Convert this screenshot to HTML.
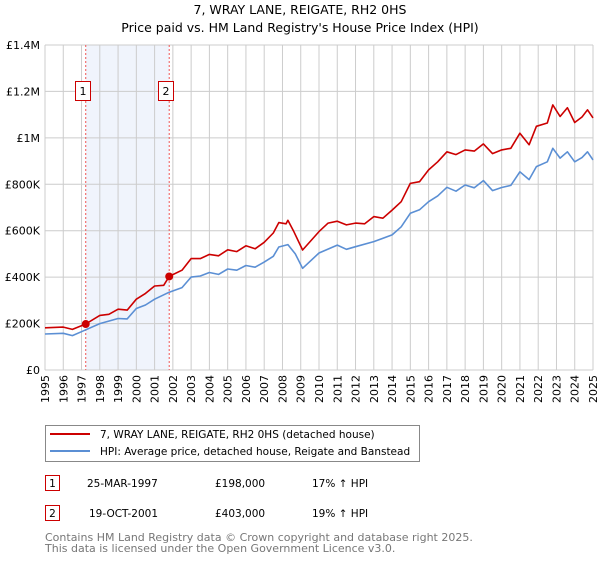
<!DOCTYPE html>
<html><head><meta charset="utf-8"><style>
body{margin:0;background:#fff;font-family:"DejaVu Sans","Liberation Sans",sans-serif;}
svg text{font-family:"DejaVu Sans","Liberation Sans",sans-serif;}
</style></head><body>
<svg id="chart" width="600" height="560" xmlns="http://www.w3.org/2000/svg">
<text x="300" y="14" text-anchor="middle" font-size="12.5" fill="#000">7, WRAY LANE, REIGATE, RH2 0HS</text>
<text x="300" y="32" text-anchor="middle" font-size="12.5" fill="#000">Price paid vs. HM Land Registry's House Price Index (HPI)</text>
<g id="plot"></g>
<g>
<rect x="45.5" y="425.5" width="374" height="36" fill="#fff" stroke="#888"/>
<line x1="50" y1="434" x2="90" y2="434" stroke="#cc0000" stroke-width="2"/>
<text x="100" y="438" font-size="10.5">7, WRAY LANE, REIGATE, RH2 0HS (detached house)</text>
<line x1="50" y1="451" x2="90" y2="451" stroke="#5b8fd4" stroke-width="2"/>
<text x="100" y="455" font-size="10.5">HPI: Average price, detached house, Reigate and Banstead</text>
</g>
<g>
<rect x="45.5" y="475.5" width="14" height="15" fill="#fff" stroke="#cc0000"/>
<text x="52.5" y="487" text-anchor="middle" font-size="10.5">1</text>
<text x="87" y="487" font-size="10.5">25-MAR-1997</text>
<text x="215" y="487" font-size="10.5">£198,000</text>
<text x="312" y="487" font-size="10.5">17% ↑ HPI</text>
<rect x="45.5" y="505.5" width="14" height="15" fill="#fff" stroke="#cc0000"/>
<text x="52.5" y="517" text-anchor="middle" font-size="10.5">2</text>
<text x="89" y="517" font-size="10.5">19-OCT-2001</text>
<text x="215" y="517" font-size="10.5">£403,000</text>
<text x="312" y="517" font-size="10.5">19% ↑ HPI</text>
</g>
<text x="45" y="541" font-size="11" fill="#777">Contains HM Land Registry data © Crown copyright and database right 2025.</text>
<text x="45" y="552" font-size="11" fill="#777">This data is licensed under the Open Government Licence v3.0.</text>
</svg>
<script>
const yearTicks=[1995,1996,1997,1998,1999,2000,2001,2002,2003,2004,2005,2006,2007,2008,2009,2010,2011,2012,2013,2014,2015,2016,2017,2018,2019,2020,2021,2022,2023,2024,2025];
const valueTicks=[0,200000,400000,600000,800000,1000000,1200000,1400000];
const valueTickLabels=["£0","£200K","£400K","£600K","£800K","£1M","£1.2M","£1.4M"];
const propYears=[1995,1996,1996.5,1997.23,1998,1998.5,1999,1999.5,2000,2000.5,2001,2001.5,2001.8,2002.5,2003,2003.5,2004,2004.5,2005,2005.5,2006,2006.5,2007,2007.5,2007.8,2008.2,2008.3,2008.6,2009.1,2010,2010.5,2011,2011.5,2012,2012.5,2013,2013.5,2014,2014.5,2015,2015.5,2016,2016.5,2017,2017.5,2018,2018.5,2019,2019.5,2020,2020.5,2021,2021.5,2021.9,2022.5,2022.8,2023.2,2023.6,2024,2024.4,2024.7,2025];
const propValues=[182000,185000,175000,198000,235000,240000,262000,258000,305000,330000,362000,365000,403000,430000,480000,480000,498000,492000,518000,510000,535000,522000,550000,590000,635000,630000,645000,600000,517000,596000,633000,641000,625000,633000,630000,661000,654000,689000,725000,804000,811000,862000,897000,940000,928000,948000,943000,974000,932000,948000,955000,1020000,970000,1050000,1064000,1142000,1092000,1130000,1066000,1090000,1121000,1086000];
const hpiYears=[1995,1996,1996.5,1997,1998,1999,1999.5,2000,2000.5,2001,2001.8,2002.5,2003,2003.5,2004,2004.5,2005,2005.5,2006,2006.5,2007,2007.5,2007.8,2008.3,2008.7,2009.1,2010,2011,2011.5,2012,2013,2014,2014.5,2015,2015.5,2016,2016.5,2017,2017.5,2018,2018.5,2019,2019.5,2020,2020.5,2021,2021.5,2021.9,2022.5,2022.8,2023.2,2023.6,2024,2024.4,2024.7,2025];
const hpiValues=[155000,158000,148000,165000,200000,222000,220000,265000,280000,305000,335000,355000,400000,405000,420000,412000,435000,430000,450000,443000,465000,490000,530000,540000,500000,438000,504000,538000,520000,531000,553000,582000,617000,675000,690000,725000,750000,787000,770000,797000,785000,816000,773000,786000,795000,854000,820000,876000,897000,955000,913000,940000,897000,915000,940000,905000];
const saleYears=[1997.23,2001.8];
const salePrices=[198000,403000];
const saleLabels=["1","2"];

const NS="http://www.w3.org/2000/svg";
const X0=45,X1=593,Y0=370,Y1=45;
const xScale=y=>X0+(y-1995)/(2025-1995)*(X1-X0);
const yScale=v=>Y0-v/1400000*(Y0-Y1);
const g=document.getElementById('plot');
function mk(t,a){const e=document.createElementNS(NS,t);for(const k in a)e.setAttribute(k,a[k]);g.appendChild(e);return e;}
let sh=mk('rect',{x:xScale(saleYears[0]),y:Y1,width:xScale(saleYears[1])-xScale(saleYears[0]),height:Y0-Y1,fill:'#f0f4fc'});


yearTicks.forEach(y=>{
  const l=mk('line',{x1:xScale(y),x2:xScale(y),y1:Y1,y2:Y0,stroke:'#ccc','stroke-width':1});
  
  
  const t=mk('text',{transform:`translate(${xScale(y)+4},${Y0+5}) rotate(-90)`,'text-anchor':'end','font-size':'11'});
  t.textContent=y;
  
  
});
valueTicks.forEach((v,i)=>{
  const l=mk('line',{x1:X0,x2:X1,y1:yScale(v),y2:yScale(v),stroke:'#ccc','stroke-width':1});
  
  
  const t=mk('text',{x:X0-5,y:yScale(v)+4,'text-anchor':'end','font-size':'11'});
  t.textContent=valueTickLabels[i];
  
  
});
saleYears.forEach((y,i)=>{
  const l=mk('line',{x1:xScale(y),x2:xScale(y),y1:Y1,y2:Y0,stroke:'#ee5555','stroke-width':1,'stroke-dasharray':'2,2'});
  
  
});
function path(xs,vs,col,name){
  const d=xs.map((x,i)=>(i?'L':'M')+xScale(x).toFixed(1)+','+yScale(vs[i]).toFixed(1)).join('');
  const p=mk('path',{d:d,fill:'none',stroke:col,'stroke-width':1.6,'stroke-linejoin':'round'});
  
  
}
path(hpiYears,hpiValues,'#5b8fd4','hpi-line');
path(propYears,propValues,'#cc0000','property-line');
saleYears.forEach((y,i)=>{
  const c=mk('circle',{cx:xScale(y),cy:yScale(salePrices[i]),r:4,fill:'#cc0000'});
  
  
  const r=mk('rect',{x:Math.round(xScale(y))-10.5,y:81.5,width:15,height:19,fill:'#fff',stroke:'#cc0000'});
  
  
  const t=mk('text',{x:Math.round(xScale(y))-3,y:95,'text-anchor':'middle','font-size':'11'});
  t.textContent=saleLabels[i];
  
  
});
</script>
</body></html>
